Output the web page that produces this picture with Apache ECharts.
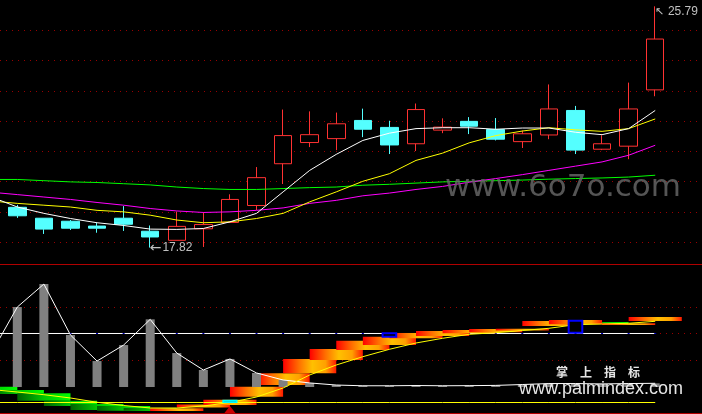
<!DOCTYPE html>
<html><head><meta charset="utf-8">
<script src="https://cdn.jsdelivr.net/npm/echarts@6/dist/echarts.min.js"></script>
<style>html,body{margin:0;padding:0;background:#000;}#c{width:702px;height:414px;}</style>
</head><body><div id="c"></div>
<script>
// ---------- data ----------
const days = ['D01','D02','D03','D04','D05','D06','D07','D08','D09','D10','D11','D12','D13','D14','D15','D16','D17','D18','D19','D20','D21','D22','D23','D24','D25','D26'];
const opens  = [19.26,19.15,18.79,18.69,18.53,18.79,18.36,18.06,18.44,18.65,19.21,20.59,21.29,21.42,22.02,21.79,21.25,21.70,21.99,21.72,21.32,21.54,22.35,21.07,21.17,23.03];
const closes = [19.16,18.87,18.43,18.46,18.46,18.59,18.17,18.52,18.58,19.41,20.13,21.52,21.55,21.91,21.73,21.21,22.38,21.80,21.83,21.40,21.58,22.40,21.04,21.25,22.40,24.71];
const lows   = [19.05,18.80,18.27,18.40,18.31,18.37,17.82,18.06,17.84,18.65,19.06,19.92,21.14,21.04,21.47,20.91,21.01,21.60,21.57,21.36,21.11,21.40,20.91,21.04,20.74,22.82];
const highs  = [19.35,19.23,18.79,18.73,18.64,19.19,18.55,19.01,18.99,19.58,20.48,22.38,22.32,22.28,22.41,22.01,22.58,22.09,22.13,22.10,21.69,23.21,22.50,21.53,23.27,25.79];
const ma5  = [19.50,19.16,18.95,18.78,18.64,18.55,18.43,18.42,18.45,18.67,18.95,19.66,20.37,20.90,21.36,21.60,21.75,21.78,21.78,21.73,21.77,21.77,21.63,21.55,21.75,22.35];
const ma10 = [19.36,19.28,19.22,19.16,19.05,19.00,18.89,18.73,18.64,18.67,18.78,18.95,19.33,19.66,20.01,20.26,20.70,20.94,21.28,21.52,21.67,21.78,21.71,21.66,21.75,22.07];
const ma20 = [19.65,19.57,19.49,19.41,19.31,19.22,19.11,19.03,18.98,19.00,19.05,19.13,19.28,19.38,19.53,19.62,19.74,19.84,19.98,20.10,20.23,20.37,20.51,20.65,20.87,21.20];
const ma60 = [20.07,20.07,20.03,19.99,19.97,19.93,19.89,19.82,19.77,19.74,19.74,19.77,19.80,19.82,19.88,19.91,19.95,19.99,20.01,20.03,20.05,20.08,20.10,20.12,20.15,20.21];
// lower panel
const volBars = [26.7,65.0,83.7,42.3,21.1,34.1,55.0,27.6,13.8,22.8,11.4,5.7,3.3,1.6,1.0,1.0,1.2,1.0,1.1,1.3,2.0,2.8,2.8,2.5,2.8,3.0];
const oscLine = [-13.59,-16.44,-19.51,-23.27,-28.16,-31.81,-34.65,-34.65,-32.38,-28.39,-22.13,-11.88,2.92,14.31,23.76,32.18,39.36,44.71,49.26,51.08,53.59,56.09,60.19,60.99,61.79,64.06];
const midLevel = 50.17;
const baseLevel = -28.4;
const guideLevels = [80, 50, 20];
const bandStart = [-1,0,1,2,3,4,5,6,7,8,9,10,11,12,13,14,15,16,17,18,19,20,22,21,23,24];
const bandLow   = [-14.96,-18.71,-26.34,-32.38,-36.93,-37.73,-37.73,-38.07,-34.08,-31.24,-21.79,-8.47,4.86,20.0,31.39,37.08,44.71,47.33,50.40,51.54,53.5,58.71,62.13,60.65,59.85,64.41];
const bandHigh  = [-10.40,-14.16,-17.92,-26.34,-30.10,-32.38,-34.65,-34.99,-30.67,-25.20,-10.40,4.86,21.14,32.52,41.97,46.53,50.74,53.02,54.16,55.30,55.64,64.41,63.27,65.54,61.79,68.96];
const bandKind  = ['down','down','down','down','down','down','down','up','up','up','up','up','up','up','up','up','up','up','up','up','up','up','down','up','up','up'];
const boxIndex = [15, 22, 9];
const boxLow   = [45.85, 50.40, -28.62];
const boxHigh  = [51.08, 65.20, -25.54];
const boxKind  = ['B', 'B', 'C'];
const arrowIndex = [9];

// ---------- build ----------
const kData = opens.map((o, i) => [i, o, closes[i], lows[i], highs[i]]);
const pairs = arr => arr.map((v, i) => [i, v]);
const lowerMin = -40.35, lowerMax = 129.3;
const xMin = 0.349, xMax = 26.76;
const redGrad = {type:'linear', x:0, y:0, x2:1, y2:0, colorStops:[
  {offset:0,color:'#ff0000'},{offset:0.3,color:'#ff7000'},{offset:0.55,color:'#ffc000'},
  {offset:0.8,color:'#ffa000'},{offset:1,color:'#ff1800'}]};
const greenGrad = {type:'linear', x:0, y:0, x2:1, y2:0, colorStops:[
  {offset:0,color:'#006000'},{offset:0.5,color:'#00c800'},{offset:1,color:'#00ff00'}]};
const bandData = bandStart.map((k, i) => [k, bandLow[i], bandHigh[i], i]);
const boxData = boxIndex.map((k, i) => [k, boxLow[i], boxHigh[i], i]);

function bandItem(params, api) {
  const k = api.value(0), lo = api.value(1), hi = api.value(2), idx = api.value(3);
  const b = api.coord([k, lo]), t = api.coord([k, hi]);
  const e = api.coord([k + 2, lo]);
  return {type:'rect', shape:{x:b[0], y:t[1], width:e[0]-b[0], height:Math.max(1, b[1]-t[1])},
    style:{fill: bandKind[idx] === 'down' ? greenGrad : redGrad}};
}
function boxItem(params, api) {
  const k = api.value(0), lo = api.value(1), hi = api.value(2), idx = api.value(3);
  const w = api.size([1, 0])[0];
  const b = api.coord([k, lo]), t = api.coord([k, hi]);
  const bw = w * 0.55;
  const isBlue = boxKind[idx] === 'B';
  return {type:'rect', shape:{x:b[0]-bw/2+0.5, y:t[1]+0.5, width:bw-1, height:b[1]-t[1]-1},
    style:{fill: isBlue ? '#000' : '#008080', stroke: isBlue ? '#0000ff' : '#00ffff', lineWidth: isBlue ? 2 : 1.5}};
}

const hidden = {axisLine:{show:false}, axisTick:{show:false}, axisLabel:{show:false}, splitLine:{show:false}};
const redAxis = {axisLine:{show:true, onZero:false, lineStyle:{color:'#b00000', width:1}}, axisTick:{show:false}, axisLabel:{show:false}, splitLine:{show:false}};
const option = {
  backgroundColor:'#000',
  animation:false,
  grid:[
    {left:0, top:-0.86, width:702, height:273.24},
    {left:0, top:264, width:702, height:149},
    {left:0, top:264, width:702, height:123}
  ],
  xAxis:[
    Object.assign({type:'value', gridIndex:0, min:xMin, max:xMax}, hidden),
    Object.assign({type:'value', gridIndex:1, min:xMin, max:xMax, position:'bottom'}, redAxis),
    Object.assign({type:'value', gridIndex:1, min:xMin, max:xMax, position:'top'}, redAxis),
    Object.assign({type:'value', gridIndex:2, min:xMin, max:xMax}, hidden)
  ],
  yAxis:[
    {type:'value', gridIndex:0, min:17, max:26, interval:1, axisLine:{show:false}, axisTick:{show:false}, axisLabel:{show:false},
      splitLine:{show:true, showMinLine:false, showMaxLine:false, lineStyle:{color:'#990000', width:1, type:[1,5]}}},
    Object.assign({type:'value', gridIndex:1, min:lowerMin, max:lowerMax}, hidden),
    Object.assign({type:'value', gridIndex:2, min:0, max:100}, hidden)
  ],
  series:[
    {type:'candlestick', xAxisIndex:0, yAxisIndex:0, data:kData, barWidth:18, z:2,
      dimensions:['day','open','close','lowest','highest'],
      encode:{x:'day', y:['open','close','lowest','highest']},
      itemStyle:{color:'#000', color0:'#54ffff', borderColor:'#ff3232', borderColor0:'#54ffff', borderWidth:1},
      markPoint:{symbol:'circle', symbolSize:1, itemStyle:{color:'rgba(0,0,0,0)'},
        data:[
          {type:'max', valueDim:'highest', label:{show:true, position:[0,0], offset:[0,6], align:'left', verticalAlign:'middle',
            formatter:p => '{a|↖}{b|' + Number(p.value).toFixed(2) + '}',
            rich:{a:{fontFamily:'DejaVu Sans', fontSize:11, color:'#c0c0c0'}, b:{fontFamily:'Liberation Sans', fontSize:12, color:'#c0c0c0', padding:[0,0,0,4]}}}},
          {type:'min', valueDim:'lowest', label:{show:true, position:[0,0], offset:[0,1], align:'left', verticalAlign:'middle',
            formatter:p => '{a|←}{b|' + Number(p.value).toFixed(2) + '}',
            rich:{a:{fontFamily:'DejaVu Sans', fontSize:14, color:'#c0c0c0'}, b:{fontFamily:'Liberation Sans', fontSize:12, color:'#c0c0c0', padding:[0,0,0,1]}}}}
        ]}},
    {type:'line', name:'MA60', xAxisIndex:0, yAxisIndex:0, data:pairs(ma60), showSymbol:false, lineStyle:{color:'#00ff00', width:1}, z:3},
    {type:'line', name:'MA20', xAxisIndex:0, yAxisIndex:0, data:pairs(ma20), showSymbol:false, lineStyle:{color:'#ff00ff', width:1}, z:3},
    {type:'line', name:'MA10', xAxisIndex:0, yAxisIndex:0, data:pairs(ma10), showSymbol:false, lineStyle:{color:'#ffff00', width:1}, z:3},
    {type:'line', name:'MA5', xAxisIndex:0, yAxisIndex:0, data:pairs(ma5), showSymbol:false, lineStyle:{color:'#ffffff', width:1}, z:3},
    // lower panel
    {type:'line', xAxisIndex:1, yAxisIndex:1, data:[], z:1,
      markLine:{silent:true, z:1, symbol:['none','none'], label:{show:false}, lineStyle:{color:'#990000', width:1, type:[1,5]},
        data: guideLevels.map(v => ({yAxis:v}))}},
    {type:'line', xAxisIndex:1, yAxisIndex:1, data:pairs(days.map(() => midLevel)), z:2,
      symbol:'rect', symbolSize:[2,1], showSymbol:true, itemStyle:{color:'#0000c0'}, lineStyle:{color:'#ffffff', width:1}},
    {type:'custom', xAxisIndex:1, yAxisIndex:1, data:bandData, renderItem:bandItem, z:3, clip:false},
    {type:'bar', xAxisIndex:3, yAxisIndex:2, data:pairs(volBars), barWidth:9, itemStyle:{color:'#808080'}, z:4},
    {type:'line', xAxisIndex:3, yAxisIndex:2, data:pairs(volBars), showSymbol:false, lineStyle:{color:'#ffffff', width:1}, z:5},
    {type:'line', xAxisIndex:1, yAxisIndex:1, data:pairs(oscLine), showSymbol:false, lineStyle:{color:'#ffff00', width:1}, z:6},
    {type:'line', xAxisIndex:1, yAxisIndex:1, data:pairs(days.map(() => baseLevel)), showSymbol:false, lineStyle:{color:'#ffff00', width:1}, z:6},
    {type:'custom', xAxisIndex:1, yAxisIndex:1, data:boxData, renderItem:boxItem, z:7},
    {type:'scatter', xAxisIndex:1, yAxisIndex:1, data:arrowIndex.map(k => [k, lowerMin]), symbol:'triangle', symbolSize:[11,7], symbolOffset:[0,-3.5], itemStyle:{color:'#ff0000'}, z:8}
  ],
  graphic:[
    {type:'text', left:445, top:172, z:100, style:{text:'www.6o7o.com', font:'31px "DejaVu Sans"', fill:'rgba(100,100,100,0.85)'}},
    {type:'text', left:556, top:366, z:100, style:{text:'掌　上　指　标', font:'bold 12px "Noto Sans CJK SC"', fill:'#e6e6e6'}},
    {type:'text', left:519, top:380, z:100, style:{text:'www.palmindex.com', font:'18px "Liberation Sans"', fill:'#e6e6e6'}}
  ]
};
const chart = echarts.init(document.getElementById('c'));
chart.setOption(option);
</script></body></html>
